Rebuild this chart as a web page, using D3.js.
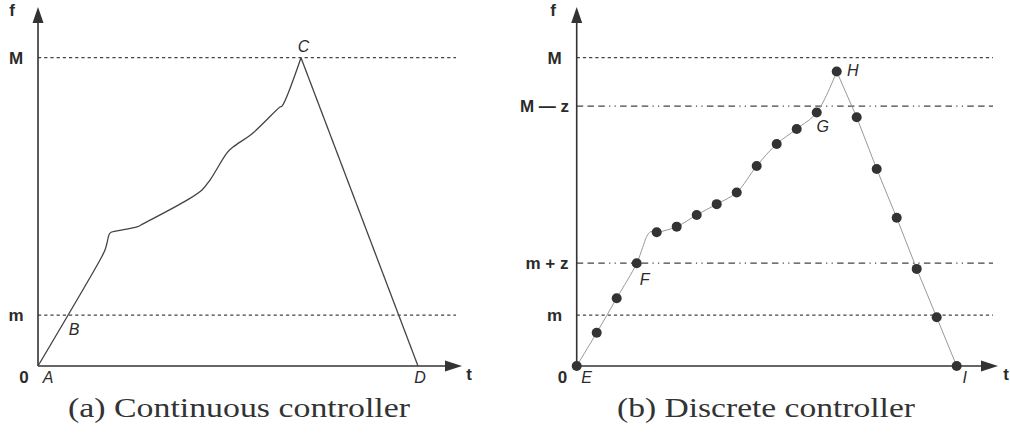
<!DOCTYPE html>
<html>
<head>
<meta charset="utf-8">
<script src="https://cdn.jsdelivr.net/npm/d3@7"></script>
<style>
  body { margin: 0; background: #fff; }
  svg { display: block; }
  .lbl { font-family: "Liberation Sans", Arial, sans-serif; font-weight: bold; font-size: 17px; fill: #2b2b2b; }
  .pt { font-family: "Liberation Sans", Arial, sans-serif; font-style: italic; font-size: 16px; fill: #2b2b2b; }
  .cap { font-family: "Liberation Serif", "DejaVu Serif", serif; font-size: 27px; fill: #333; }
</style>
</head>
<body>
<div id="chart"></div>
<script>
// ---- data ----
// (a) continuous controller: time t, value f (M = 100)
var contT = [0, 3.1, 3.35, 3.45, 3.6, 3.95, 4.95, 5.25, 7.45, 8.2, 8.6, 9.45, 9.75, 10.75, 12.1, 12.2, 13.15];
var contF = [0, 34.4, 37.6, 39.9, 43.1, 43.8, 45.1, 46.1, 53.8, 57.1, 60.3, 69.1, 71.0, 75.6, 84.0, 84.3, 100];
var fallT = [13.15, 19];
var fallF = [100, 0];

// (b) discrete controller samples
var discT = [0, 1, 2, 3, 4, 5, 6, 7, 8, 9, 10, 11, 12, 13, 14, 15, 16, 17, 18, 19];
var discF = [0, 10.8, 22.0, 33.3, 43.4, 45.2, 49.0, 52.5, 56.3, 64.9, 72.0, 76.9, 82.2, 95.5, 80.7, 63.9, 48.1, 31.5, 15.8, 0];
// thin trace joining the samples (rising part has the same wiggle as (a))
var traceT = [0, 1, 2, 3, 3.3, 3.5, 3.7, 4, 5, 6, 7, 8, 9, 10, 11, 12, 13];
var traceF = [0, 10.8, 22.0, 33.3, 38.5, 42.0, 43.6, 43.4, 45.2, 49.0, 52.5, 56.3, 64.9, 72.0, 76.9, 82.2, 95.5];

// horizontal levels
var levelNamesA = ["M", "m"];
var levelValuesA = [100, 16.5];
var levelNamesB = ["M", "M \u2014 z", "m + z", "m"];
var levelValuesB = [100, 84.3, 33.4, 16.5];
var levelDashB = [false, true, true, false];

// point names
var pointNamesA = ["A", "B", "C", "D"];
var pointNamesB = ["E", "F", "G", "H", "I"];
var captions = ["(a) Continuous controller", "(b) Discrete controller"];

// ---- layout ----
var W = 1010, H = 438;
var ink = "#333";
var svg = d3.select("#chart").append("svg")
    .attr("width", W).attr("height", H);

var y = d3.scaleLinear().domain([0, 100]).range([366, 57.7]);
var yTop = 7;

var xa = d3.scaleLinear().domain([0, 19]).range([38, 418]);
var xb = d3.scaleLinear().domain([0, 19]).range([576.7, 956.7]);

var dotted = "3.2,3";
var dashDot = "6.5,4.3,6.5,4.3,6.5,4.3,1.2,4.3,1.2,4.3";

function axes(g, x, xEnd) {
  g.append("line")
      .attr("x1", x(0)).attr("x2", x(0))
      .attr("y1", y(0)).attr("y2", yTop + 14)
      .attr("stroke", ink).attr("stroke-width", 1.6);
  g.append("path")
      .attr("d", "M" + x(0) + "," + yTop + " L" + (x(0) - 5.5) + "," + (yTop + 16) +
                 " L" + (x(0) + 5.5) + "," + (yTop + 16) + "Z")
      .attr("fill", ink);
  g.append("line")
      .attr("x1", x(0)).attr("x2", xEnd - 14)
      .attr("y1", y(0)).attr("y2", y(0))
      .attr("stroke", ink).attr("stroke-width", 1.6);
  g.append("path")
      .attr("d", "M" + xEnd + "," + y(0) + " L" + (xEnd - 17) + "," + (y(0) - 5.5) +
                 " L" + (xEnd - 17) + "," + (y(0) + 5.5) + "Z")
      .attr("fill", ink);
}

function levels(g, x, names, values, dashes, lineEnd, labelX) {
  g.selectAll(".lvl").data(values).enter().append("line")
      .attr("class", "lvl")
      .attr("x1", x(0)).attr("x2", lineEnd)
      .attr("y1", function(d) { return y(d); })
      .attr("y2", function(d) { return y(d); })
      .attr("stroke", "#444").attr("stroke-width", 1.3)
      .attr("stroke-dasharray", function(d, i) { return dashes[i] ? dashDot : dotted; });
  g.selectAll(".lvlt").data(values).enter().append("text")
      .attr("class", "lbl")
      .attr("text-anchor", "middle")
      .attr("x", function(d, i) { return labelX[i]; })
      .attr("y", function(d) { return y(d) + 6; })
      .text(function(d, i) { return names[i]; });
}

// ---- panel (a) ----
var ga = svg.append("g");
levels(ga, xa, levelNamesA, levelValuesA, [false, false], 456, [16, 16]);
axes(ga, xa, 462);

var riseA = contT.map(function(t, i) { return [t, contF[i]]; });
ga.append("path")
    .attr("d", d3.line().x(function(d) { return xa(d[0]); }).y(function(d) { return y(d[1]); })
      .curve(d3.curveCatmullRom.alpha(0.5))(riseA))
    .attr("fill", "none").attr("stroke", "#444").attr("stroke-width", 1.3);
ga.append("path")
    .attr("d", d3.line().x(function(d) { return xa(d[0]); }).y(function(d) { return y(d[1]); })
      (fallT.map(function(t, i) { return [t, fallF[i]]; })))
    .attr("fill", "none").attr("stroke", "#444").attr("stroke-width", 1.3);

// axis names
ga.append("text").attr("class", "lbl").attr("x", 12).attr("y", 16).attr("text-anchor", "middle").text("f");
ga.append("text").attr("class", "lbl").attr("x", 24).attr("y", 383).attr("text-anchor", "middle").text("0");
ga.append("text").attr("class", "lbl").attr("x", 469).attr("y", 380).attr("text-anchor", "middle").text("t");

// point labels A B C D
var ptA = [[xa(0) + 10, 383], [xa(0) + 36, 335], [xa(13.15) + 2.5, 52], [xa(19) + 2, 383]];
ga.selectAll(".ptl").data(pointNamesA).enter().append("text")
    .attr("class", "pt").attr("text-anchor", "middle")
    .attr("x", function(d, i) { return ptA[i][0]; })
    .attr("y", function(d, i) { return ptA[i][1]; })
    .text(function(d) { return d; });

// ---- panel (b) ----
var gb = svg.append("g");
levels(gb, xb, levelNamesB, levelValuesB, levelDashB, 993, [554.5, 544.5, 547, 554.5]);
axes(gb, xb, 998);

var riseB = traceT.map(function(t, i) { return [t, traceF[i]]; });
gb.append("path")
    .attr("d", d3.line().x(function(d) { return xb(d[0]); }).y(function(d) { return y(d[1]); })
      .curve(d3.curveCatmullRom.alpha(0.5))(riseB))
    .attr("fill", "none").attr("stroke", "#999").attr("stroke-width", 1);
var fallB = discT.slice(13).map(function(t, i) { return [t, discF[i + 13]]; });
gb.append("path")
    .attr("d", d3.line().x(function(d) { return xb(d[0]); }).y(function(d) { return y(d[1]); })(fallB))
    .attr("fill", "none").attr("stroke", "#999").attr("stroke-width", 1);

gb.selectAll(".dot").data(discT).enter().append("circle")
    .attr("cx", function(d) { return xb(d); })
    .attr("cy", function(d, i) { return y(discF[i]); })
    .attr("r", 5)
    .attr("fill", "#333");

gb.append("text").attr("class", "lbl").attr("x", 553).attr("y", 16).attr("text-anchor", "middle").text("f");
gb.append("text").attr("class", "lbl").attr("x", 562.5).attr("y", 383).attr("text-anchor", "middle").text("0");
gb.append("text").attr("class", "lbl").attr("x", 1006).attr("y", 380).attr("text-anchor", "middle").text("t");

// E F G H I
var ptB = [[xb(0) + 10, 383], [xb(3) + 8, 285], [xb(12) + 6, 132], [xb(13) + 16, 76], [xb(19) + 8, 383]];
gb.selectAll(".ptl").data(pointNamesB).enter().append("text")
    .attr("class", "pt").attr("text-anchor", "middle")
    .attr("x", function(d, i) { return ptB[i][0]; })
    .attr("y", function(d, i) { return ptB[i][1]; })
    .text(function(d) { return d; });

// ---- captions ----
var capX = [239, 766], capW = [342, 298];
svg.selectAll(".cap").data(captions).enter().append("text")
    .attr("class", "cap").attr("text-anchor", "middle")
    .attr("x", function(d, i) { return capX[i]; })
    .attr("y", 417)
    .attr("textLength", function(d, i) { return capW[i]; })
    .attr("lengthAdjust", "spacingAndGlyphs")
    .text(function(d) { return d; });
</script>
</body>
</html>
